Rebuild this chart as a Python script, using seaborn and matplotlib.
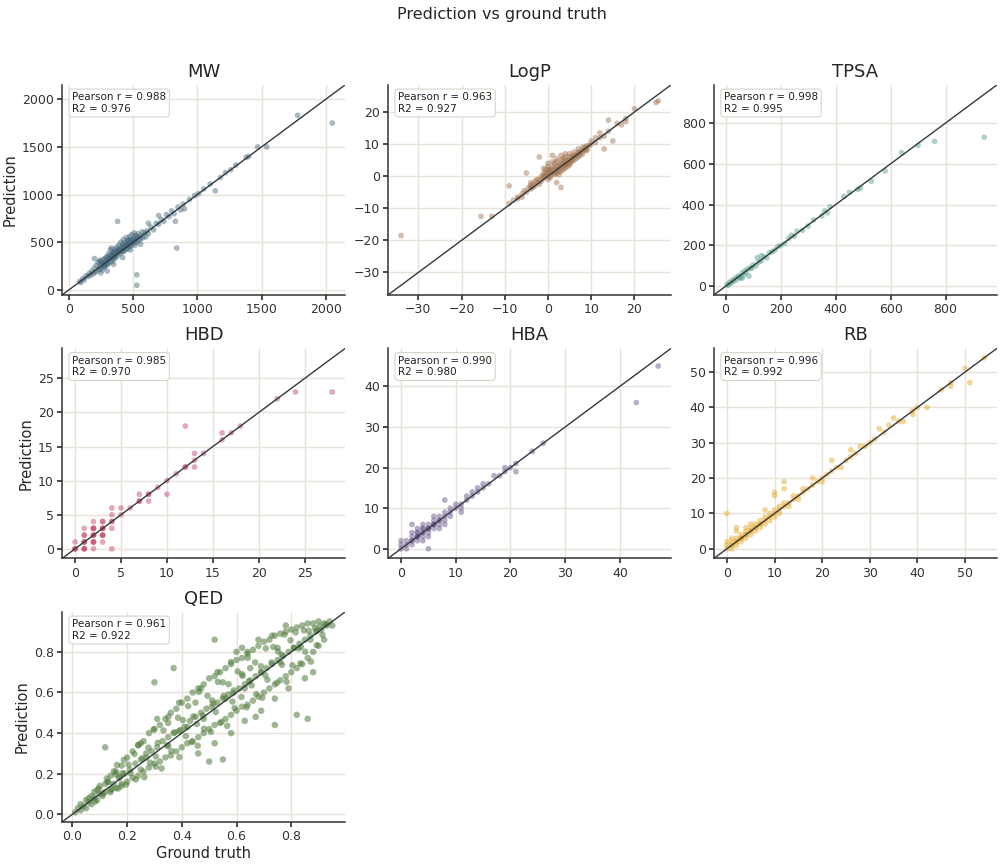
import matplotlib
matplotlib.use("Agg")
import matplotlib.pyplot as plt
import seaborn as sns
import pandas as pd

# values (ground truth, prediction)
mw_true = [85, 95, 110, 120, 135, 150, 160, 170, 180, 190,
           200, 205, 215, 220, 230, 235, 240, 245, 250, 255,
           260, 265, 270, 275, 280, 285, 290, 295, 300, 305,
           310, 315, 320, 325, 330, 335, 340, 345, 350, 355,
           360, 365, 370, 375, 380, 385, 390, 395, 400, 405,
           410, 415, 420, 425, 430, 435, 440, 445, 450, 455,
           460, 465, 470, 475, 480, 485, 490, 495, 500, 505,
           510, 515, 520, 525, 530, 540, 550, 560, 570, 580,
           590, 600, 610, 620, 640, 660, 680, 700, 720, 740,
           760, 780, 800, 820, 830, 850, 870, 890, 900, 940,
           980, 1010, 1050, 1100, 1140, 1180, 1220, 1260, 1300, 1380,
           1400, 1470, 1540, 1780, 2050, 380, 530, 530, 840, 240,
           200, 300, 350, 420, 480, 560, 620, 700, 250, 330,
           300, 320, 340, 360, 380, 400, 420, 440, 460, 480,
           260, 280, 300, 320, 340, 360, 380, 400, 420, 440,
           460, 480, 500, 520, 540, 560, 280, 350, 450, 520]
mw_pred = [90, 80, 120, 105, 150, 140, 175, 155, 200, 170,
           230, 185, 260, 200, 290, 215, 250, 300, 230, 270,
           210, 320, 280, 240, 330, 300, 260, 350, 310, 270,
           380, 330, 290, 420, 350, 300, 390, 360, 320, 430,
           380, 340, 410, 450, 360, 400, 470, 420, 380, 500,
           440, 400, 480, 530, 450, 410, 500, 470, 550, 430,
           490, 520, 450, 560, 500, 470, 580, 520, 490, 540,
           600, 470, 530, 560, 500, 590, 520, 570, 610, 550,
           600, 560, 620, 590, 660, 630, 700, 690, 740, 720,
           790, 770, 830, 800, 720, 870, 840, 900, 850, 950,
           990, 1010, 1060, 1110, 1040, 1180, 1230, 1260, 1310, 1390,
           1400, 1500, 1500, 1830, 1750, 720, 160, 50, 440, 310,
           330, 200, 270, 340, 420, 480, 700, 780, 180, 440,
           340, 360, 330, 400, 420, 430, 410, 460, 520, 530,
           290, 260, 280, 330, 370, 350, 390, 410, 460, 430,
           470, 460, 520, 500, 550, 540, 250, 390, 480, 570]

logp_true = [-34, -15.5, -13, -9, -9, -8, -7, -6, -5.5, -5,
             -5, -4.5, -4, -3.5, -3, -3, -2.5, -2, -2, -1.5,
             -1.5, -1, -1, -0.5, -0.5, 0, 0, 0, 0.5, 0.5,
             1, 1, 1, 1.5, 1.5, 2, 2, 2, 2.5, 2.5,
             3, 3, 3, 3.5, 3.5, 4, 4, 4, 4.5, 4.5,
             5, 5, 5, 5.5, 5.5, 6, 6, 6, 6.5, 7,
             7, 7, 7.5, 8, 8, 8.5, 9, 9, 10, 10,
             11, 11, 12, 12, 13, 13, 14, 14, 15, 16,
             17, 18, 18, 20, 25, 25.5, -7, -6, -4, 0,
             0.5, 1, 1.5, 2, 2.5, 3, 3.5, 4, 4.5, 5,
             -1, -0.5, 0, 0.5, 1.5, 2, 2.5, 3, 3.5, 4,
             5, 5.5, 6, 6.5, 7, 7.5, 8, 8.5, 9, 9.5,
             -2, -2.5, -3.5, -4, -1, 0, 1, 2, 3, 4]
logp_pred = [-18.5, -12.5, -12.5, -3, -8.5, -7.5, -6.5, -5.5, -4.5, 1,
             -5, -3.5, -4, -2.5, -3, -1.5, -2, -1, 6, 0,
             -1.5, 1, -0.5, 2, 0, 1, -1, 3, 2, 0,
             6.5, 3, 1, 4, 0.5, 2, -2, 4.5, 1.5, 3.5,
             -3.5, 3, 5, 2, 4, 4, 2.5, 6, 5, 3,
             5, 7, 3.5, 6, 4.5, 6, 7.5, 5, 6.5, 7,
             8.5, 6, 7.5, 8, 9, 8, 9.5, 8, 10, 11,
             10.5, 12, 12, 13.5, 12.5, 8.5, 17.5, 14, 11, 16.5,
             16, 18, 17, 21, 23, 23.5, -7, -6.5, -3, 2,
             1.5, 2, 2.5, 3, 2.5, 4, 3, 5, 4, 6,
             0, 1, 0.5, -0.5, 1, 1, 0.5, 1.5, 5.5, 3.5,
             4, 5, 6.5, 5.5, 7.5, 6.5, 7, 9, 8.5, 9.5,
             -2.5, -1, -3.5, -2, 2.5, 4, 4.5, 5.5, 6.5, 7]

tpsa_true = [5, 10, 15, 20, 25, 30, 35, 40, 45, 50,
             55, 60, 65, 70, 75, 80, 85, 90, 95, 100,
             110, 115, 120, 130, 140, 150, 160, 170, 180, 190,
             200, 215, 230, 250, 260, 280, 300, 320, 350, 360,
             370, 380, 430, 450, 480, 490, 530, 580, 640, 700,
             760, 940, 60, 130, 240]
tpsa_pred = [8, 5, 20, 15, 30, 25, 40, 32, 50, 45,
             40, 65, 55, 75, 68, 85, 50, 90, 88, 105,
             100, 140, 118, 125, 145, 140, 165, 170, 178, 195,
             200, 210, 235, 245, 270, 275, 295, 325, 345, 370,
             360, 390, 440, 460, 475, 480, 515, 565, 655, 690,
             710, 730, 40, 150, 250]

hbd_true = [0, 0, 0, 0, 1, 1, 1, 1, 1, 1, 1, 1, 1,
            2, 2, 2, 2, 2, 2, 2, 2, 2, 2, 2,
            3, 3, 3, 3, 3, 3, 3, 3, 3, 4, 4, 4, 4, 4, 4,
            5, 5, 6, 7, 7, 7, 8, 8, 8, 9, 10, 10, 11,
            12, 12, 12, 13, 13, 13, 14, 16, 16, 17, 18, 22, 24, 28]
hbd_pred = [0, 0, 0, 1, 0, 1, 1, 1, 2, 2, 3, 0, 0,
            0, 1, 1, 2, 2, 2, 3, 3, 4, 3, 1,
            1, 2, 2, 3, 3, 3, 4, 4, 2, 0, 3, 4, 4, 5, 6,
            5, 6, 6, 7, 7, 8, 7, 8, 8, 9, 8, 10, 11,
            12, 12, 18, 12, 13, 14, 14, 16, 17, 17, 18, 22, 23, 23]

hba_true = [0, 0, 0, 1, 1, 1, 2, 2, 2, 2, 2,
            3, 3, 3, 3, 4, 4, 4, 4, 4, 5, 5, 5, 5, 5,
            6, 6, 6, 6, 7, 7, 7, 7, 8, 8, 8, 8, 8,
            9, 9, 9, 10, 10, 11, 11, 11, 12, 12, 13, 13, 14, 14, 15, 15, 16,
            17, 18, 19, 19, 20, 21, 21, 24, 26, 43, 47,
            2, 3, 3, 4, 5, 6, 7, 3, 4, 5, 6]
hba_pred = [0, 1, 2, 1, 0, 2, 2, 3, 1, 4, 6,
            3, 4, 2, 5, 4, 5, 3, 6, 2, 5, 6, 4, 0, 3,
            6, 7, 5, 8, 7, 8, 6, 5, 8, 9, 7, 12, 6,
            9, 10, 8, 10, 11, 11, 10, 9, 12, 13, 13, 14, 14, 15, 15, 16, 16,
            18, 18, 19, 20, 20, 21, 19, 24, 26, 36, 45,
            2, 3, 4, 4, 5, 6, 7, 3, 5, 5, 6]

rb_true = [0, 0, 0, 0, 1, 1, 1, 1, 2, 2, 2, 2, 2, 3, 3, 3, 4, 4, 4, 4,
           5, 5, 5, 5, 6, 6, 6, 7, 7, 7, 8, 8, 8, 8, 9, 9, 9, 10, 10, 10,
           10, 10, 11, 11, 11, 12, 12, 12, 12, 13, 13, 14, 14, 15, 15, 16, 16, 17, 18, 18,
           19, 20, 20, 21, 22, 22, 23, 24, 25, 26, 26, 27, 28, 29, 30, 31, 32, 33, 34, 35,
           36, 37, 39, 39, 40, 42, 45, 47, 47, 50, 51, 54, 3, 5, 6, 2, 4, 7, 1, 3]
rb_pred = [0, 1, 2, 10, 1, 2, 0, 3, 2, 3, 1, 5, 6, 3, 4, 2, 4, 5, 3, 6,
           5, 6, 4, 7, 6, 7, 5, 7, 8, 6, 8, 9, 11, 7, 9, 10, 8, 10, 11, 16,
           15, 9, 11, 12, 10, 12, 13, 19, 17, 13, 12, 14, 15, 15, 14, 16, 17, 17, 18, 20,
           19, 20, 19, 21, 22, 25, 23, 23, 25, 26, 28, 27, 29, 29, 30, 31, 34, 33, 35, 37,
           36, 36, 39, 38, 40, 40, 45, 46, 47, 51, 47, 54, 3, 5, 6, 2, 4, 7, 1, 3]

qed_true = [0.01, 0.02, 0.03, 0.03, 0.04, 0.05, 0.05, 0.06, 0.07, 0.07,
            0.08, 0.08, 0.09, 0.09, 0.10, 0.10, 0.11, 0.12, 0.12, 0.12,
            0.13, 0.14, 0.14, 0.15, 0.16, 0.16, 0.17, 0.18, 0.18, 0.19,
            0.20, 0.20, 0.21, 0.22, 0.22, 0.23, 0.24, 0.24, 0.25, 0.25,
            0.26, 0.26, 0.27, 0.28, 0.28, 0.29, 0.30, 0.30, 0.30, 0.31,
            0.32, 0.32, 0.33, 0.34, 0.34, 0.35, 0.36, 0.36, 0.37, 0.37,
            0.38, 0.38, 0.39, 0.40, 0.40, 0.41, 0.42, 0.42, 0.43, 0.44,
            0.44, 0.45, 0.46, 0.46, 0.47, 0.48, 0.48, 0.49, 0.50, 0.50,
            0.50, 0.51, 0.52, 0.52, 0.52, 0.53, 0.54, 0.54, 0.55, 0.55,
            0.56, 0.56, 0.57, 0.58, 0.58, 0.59, 0.60, 0.60, 0.60, 0.61,
            0.62, 0.62, 0.63, 0.64, 0.64, 0.65, 0.66, 0.66, 0.67, 0.68,
            0.68, 0.69, 0.70, 0.70, 0.71, 0.72, 0.72, 0.73, 0.74, 0.74,
            0.74, 0.75, 0.76, 0.76, 0.77, 0.78, 0.78, 0.79, 0.80, 0.80,
            0.81, 0.82, 0.82, 0.82, 0.83, 0.84, 0.84, 0.85, 0.86, 0.86,
            0.86, 0.87, 0.88, 0.88, 0.89, 0.90, 0.90, 0.91, 0.92, 0.92,
            0.93, 0.94, 0.95, 0.45, 0.55, 0.65, 0.35, 0.25, 0.75, 0.62,
            0.13, 0.145, 0.152, 0.167, 0.174, 0.188, 0.196, 0.205, 0.213, 0.227,
            0.232, 0.241, 0.256, 0.263, 0.278, 0.284, 0.297, 0.305, 0.312, 0.326,
            0.333, 0.347, 0.351, 0.362, 0.374, 0.386, 0.391, 0.404, 0.415, 0.423,
            0.436, 0.442, 0.458, 0.463, 0.477, 0.481, 0.494, 0.506, 0.511, 0.524,
            0.532, 0.545, 0.553, 0.566, 0.571, 0.587, 0.593, 0.604, 0.618, 0.622,
            0.637, 0.641, 0.655, 0.668, 0.672, 0.689, 0.694, 0.707, 0.713, 0.728,
            0.734, 0.748, 0.752, 0.766, 0.775, 0.783, 0.797, 0.804, 0.816, 0.827,
            0.833, 0.846, 0.851, 0.864, 0.872, 0.887, 0.893, 0.905, 0.914, 0.926,
            0.06, 0.083, 0.097, 0.112, 0.126, 0.139, 0.158, 0.163, 0.179, 0.183,
            0.27, 0.35, 0.42, 0.48, 0.56, 0.63, 0.69, 0.76, 0.81, 0.87,
            0.305, 0.395, 0.455, 0.515, 0.585, 0.645, 0.705, 0.765, 0.835, 0.895,
            0.31, 0.39, 0.47, 0.53, 0.58, 0.64, 0.68, 0.73, 0.78, 0.62,
            0.46, 0.52, 0.58, 0.63, 0.69, 0.74, 0.79, 0.85, 0.88, 0.67]
qed_pred = [0.01, 0.03, 0.02, 0.05, 0.04, 0.07, 0.03, 0.06, 0.09, 0.05,
            0.08, 0.11, 0.07, 0.12, 0.10, 0.14, 0.09, 0.33, 0.15, 0.11,
            0.16, 0.12, 0.19, 0.15, 0.21, 0.13, 0.18, 0.24, 0.15, 0.20,
            0.28, 0.16, 0.22, 0.31, 0.18, 0.25, 0.34, 0.19, 0.27, 0.35,
            0.36, 0.21, 0.30, 0.40, 0.23, 0.31, 0.65, 0.42, 0.25, 0.33,
            0.44, 0.26, 0.36, 0.47, 0.28, 0.38, 0.50, 0.29, 0.72, 0.40,
            0.52, 0.31, 0.41, 0.55, 0.33, 0.43, 0.57, 0.35, 0.46, 0.60,
            0.36, 0.48, 0.62, 0.38, 0.50, 0.64, 0.40, 0.52, 0.67, 0.26,
            0.42, 0.53, 0.86, 0.68, 0.44, 0.55, 0.70, 0.45, 0.27, 0.57,
            0.72, 0.47, 0.59, 0.74, 0.49, 0.61, 0.80, 0.76, 0.51, 0.62,
            0.77, 0.53, 0.64, 0.79, 0.54, 0.66, 0.81, 0.56, 0.68, 0.83,
            0.58, 0.70, 0.85, 0.60, 0.72, 0.86, 0.62, 0.74, 0.44, 0.88,
            0.64, 0.76, 0.89, 0.66, 0.78, 0.90, 0.68, 0.80, 0.91, 0.70,
            0.82, 0.49, 0.92, 0.72, 0.84, 0.93, 0.74, 0.86, 0.47, 0.94,
            0.77, 0.88, 0.94, 0.80, 0.90, 0.95, 0.83, 0.91, 0.94, 0.86,
            0.93, 0.95, 0.93, 0.55, 0.65, 0.72, 0.45, 0.22, 0.82, 0.69,
            0.16, 0.125, 0.212, 0.127, 0.184, 0.268, 0.146, 0.245, 0.203, 0.297,
            0.172, 0.341, 0.276, 0.183, 0.328, 0.254, 0.417, 0.235, 0.352, 0.226,
            0.413, 0.337, 0.481, 0.312, 0.404, 0.476, 0.281, 0.464, 0.385, 0.533,
            0.356, 0.482, 0.338, 0.603, 0.487, 0.421, 0.584, 0.406, 0.561, 0.504,
            0.652, 0.455, 0.583, 0.436, 0.641, 0.597, 0.523, 0.704, 0.578, 0.682,
            0.527, 0.771, 0.635, 0.748, 0.592, 0.729, 0.574, 0.817, 0.663, 0.748,
            0.824, 0.648, 0.802, 0.736, 0.885, 0.653, 0.857, 0.734, 0.896, 0.817,
            0.743, 0.906, 0.801, 0.904, 0.752, 0.917, 0.833, 0.925, 0.884, 0.936,
            0.08, 0.063, 0.127, 0.102, 0.176, 0.109, 0.198, 0.243, 0.139, 0.203,
            0.28, 0.34, 0.43, 0.47, 0.57, 0.62, 0.70, 0.75, 0.82, 0.86,
            0.285, 0.415, 0.445, 0.545, 0.555, 0.655, 0.685, 0.785, 0.825, 0.905,
            0.47, 0.55, 0.62, 0.70, 0.75, 0.80, 0.86, 0.88, 0.93, 0.82,
            0.30, 0.35, 0.40, 0.46, 0.51, 0.57, 0.62, 0.67, 0.70, 0.48]

names = ["MW", "LogP", "TPSA", "HBD", "HBA", "RB", "QED"]
truths = [mw_true, logp_true, tpsa_true, hbd_true, hba_true, rb_true, qed_true]
preds = [mw_pred, logp_pred, tpsa_pred, hbd_pred, hba_pred, rb_pred, qed_pred]
pearson = ["0.988", "0.963", "0.998", "0.985", "0.990", "0.996", "0.961"]
r2 = ["0.976", "0.927", "0.995", "0.970", "0.980", "0.992", "0.922"]
colors = ["#3f6478", "#9c6b45", "#4f9a84", "#c0405a", "#5e4a82", "#e8a21e", "#4f7a3a"]
alphas = [0.45, 0.45, 0.45, 0.45, 0.45, 0.45, 0.55]
sizes = [17, 17, 17, 17, 17, 17, 22]

sns.set_theme(style="ticks", rc={
    "axes.grid": True,
    "grid.color": "#e7e3d9",
    "grid.linewidth": 1.0,
    "axes.edgecolor": "#333333",
    "axes.linewidth": 1.1,
    "xtick.color": "#333333",
    "ytick.color": "#333333",
    "xtick.labelsize": 9,
    "ytick.labelsize": 9,
    "xtick.major.size": 3.5,
    "ytick.major.size": 3.5,
    "xtick.major.pad": 2.5,
    "ytick.major.pad": 2.5,
})
plt.rcParams["font.family"] = ["DejaVu Sans"]

fig, axes = plt.subplots(3, 3, figsize=(10.04, 8.66), dpi=100)
fig.subplots_adjust(left=0.062, right=0.993, top=0.902, bottom=0.051,
                    wspace=0.152, hspace=0.255)
axes = axes.flatten()

for i, name in enumerate(names):
    ax = axes[i]
    df = pd.DataFrame({"truth": truths[i], "pred": preds[i]})
    sns.scatterplot(data=df, x="truth", y="pred", color=colors[i], s=sizes[i],
                    alpha=alphas[i], edgecolor="none", ax=ax)
    lo = min(df.truth.min(), df.pred.min())
    hi = max(df.truth.max(), df.pred.max())
    pad = 0.05 * (hi - lo)
    ax.set_xlim(lo - pad, hi + pad)
    ax.set_ylim(lo - pad, hi + pad)
    ax.axline((lo, lo), slope=1, color="#2f3a3f", lw=1.0, zorder=3)
    ax.set_title(name, fontsize=13)
    ax.set_xlabel("Ground truth" if name == "QED" else "", fontsize=10.5, labelpad=2)
    ax.set_ylabel("Prediction" if i % 3 == 0 else "", fontsize=10.5, labelpad=3)
    ax.text(0.035, 0.965, "Pearson r = {}\nR2 = {}".format(pearson[i], r2[i]),
            transform=ax.transAxes, ha="left", va="top", fontsize=7.5,
            color="#222222", zorder=5,
            bbox=dict(boxstyle="round,pad=0.3", fc="white", ec="#d8d4c8", lw=0.8))
    ax.set_axisbelow(True)
    sns.despine(ax=ax)

for j in range(len(names), 9):
    axes[j].remove()

fig.suptitle("Prediction vs ground truth", fontsize=11.5, y=0.992, va="top")
fig.savefig("out.png", dpi=100)
